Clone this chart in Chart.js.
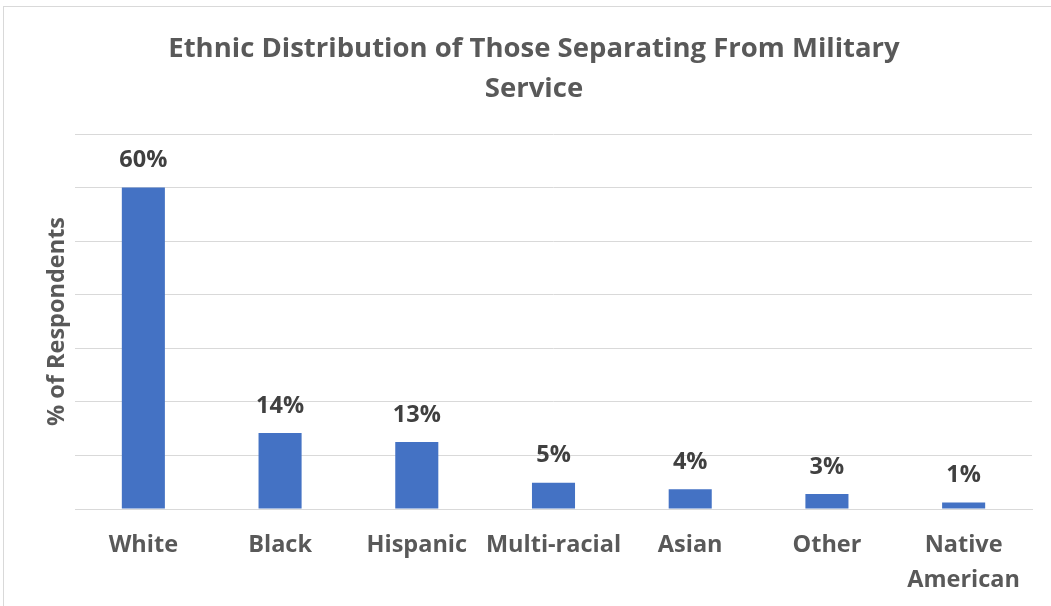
<!DOCTYPE html>
<html>
<head>
<meta charset="utf-8">
<script src="https://cdn.jsdelivr.net/npm/chart.js@4.4.1/dist/chart.umd.min.js"></script>
<style>
    html, body { margin: 0; padding: 0; background: #fff; }
    #wrap { position: relative; width: 1051px; height: 606px; overflow: hidden; }
    #frame { position: absolute; left: 3px; top: 6px; width: 1100px; height: 700px; border: 1px solid #d9d9d9; }
    canvas { position: absolute; left: 0; top: 0; }
</style>
</head>
<body>
<div id="wrap">
    <div id="frame"></div>
    <canvas id="chart" width="1051" height="606"></canvas>
</div>
<script>
const categories = ['White', 'Black', 'Hispanic', 'Multi-racial', 'Asian', 'Other', ['Native', 'American']];
const shares = [60, 14.2, 12.5, 4.9, 3.7, 2.8, 1.2];
const shareLabels = ['60%', '14%', '13%', '5%', '4%', '3%', '1%'];
const titleLines = ['Ethnic Distribution of Those Separating From Military', 'Service'];

const textColor = '#595959';
const valueColor = '#404040';
const fontFamily = '"Open Sans", Lato, sans-serif';

// labels above bars, no datalabels plugin available offline
const barLabels = {
    id: 'barLabels',
    afterDatasetsDraw(chart) {
        const ctx = chart.ctx;
        const meta = chart.getDatasetMeta(0);
        ctx.save();
        ctx.font = 'bold 23.5px ' + fontFamily;
        ctx.fillStyle = valueColor;
        ctx.textAlign = 'center';
        ctx.textBaseline = 'middle';
        meta.data.forEach((bar, i) => {
            ctx.fillText(shareLabels[i], bar.x, bar.y - 27);
        });
        ctx.restore();
    }
};

const ctx = document.getElementById('chart').getContext('2d');
const chart = new Chart(ctx, {
    type: 'bar',
    data: {
        labels: categories,
        datasets: [{
            data: shares,
            backgroundColor: '#4472C4',
            borderWidth: 0,
            barPercentage: 0.315,
            categoryPercentage: 1
        }]
    },
    options: {
        responsive: false,
        animation: false,
        layout: { padding: { left: 36, right: 19, top: 0, bottom: 0 } },
        plugins: {
            legend: { display: false },
            tooltip: { enabled: false },
            title: {
                display: true,
                text: titleLines,
                color: textColor,
                font: { family: fontFamily, size: 27.5, weight: 'bold', lineHeight: 1.455 },
                padding: { top: 29, bottom: 25 }
            }
        },
        scales: {
            x: {
                grid: { display: false, drawTicks: false },
                border: { color: '#d9d9d9', width: 1 },
                ticks: {
                    color: textColor,
                    font: { family: fontFamily, size: 23.5, weight: 'bold', lineHeight: 1.49 },
                    padding: 19,
                    maxRotation: 0,
                    autoSkip: false
                },
                afterFit(scale) { scale.height = 97; }
            },
            y: {
                min: 0,
                max: 70,
                ticks: { display: false, stepSize: 10 },
                grid: { color: '#d9d9d9', lineWidth: 1, drawTicks: false },
                border: { display: false },
                title: {
                    display: true,
                    text: '% of Respondents',
                    color: textColor,
                    font: { family: fontFamily, size: 23.5, weight: 'bold', lineHeight: 1.2 },
                    padding: { top: 7, bottom: 0 }
                },
                afterFit(scale) { scale.width = 39; }
            }
        }
    },
    plugins: [barLabels]
});
</script>
</body>
</html>
